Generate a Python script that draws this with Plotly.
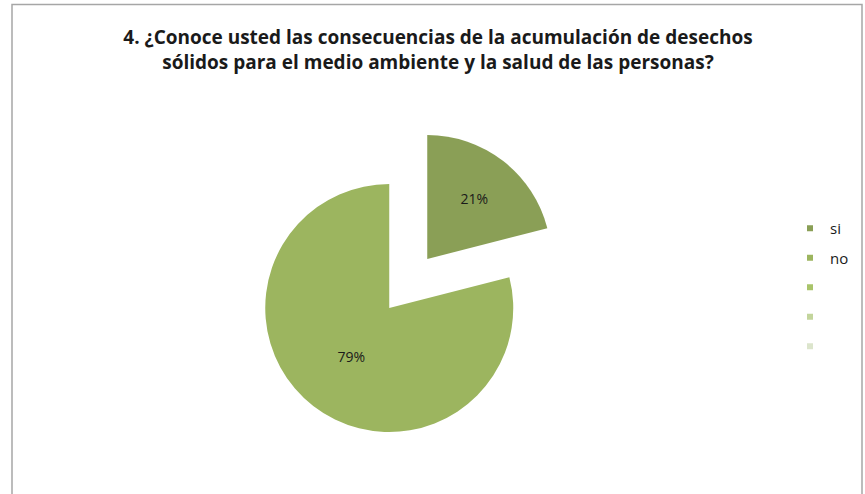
import plotly.graph_objects as go

# survey answers
labels = ["si", "no"]
values = [21, 79]
slice_colors = ["#8A9F56", "#9CB55F"]

# Excel legend also lists three empty categories
legend_names = ["si", "no", " ", " ", " "]
legend_colors = ["#8A9F56", "#9CB55F", "#A9C46A", "#C3D59C", "#DCE5CC"]

title_text = ("4. ¿Conoce usted las consecuencias de la acumulación de desechos<br>"
              "sólidos para el medio ambiente y la salud de las personas?")

W, H = 865, 494

fig = go.Figure()

fig.add_trace(go.Pie(
    labels=labels, values=values, sort=False, direction="clockwise", rotation=0,
    pull=[0.5, 0], marker=dict(colors=slice_colors, line=dict(width=0)),
    textinfo="percent", textposition="inside", insidetextorientation="horizontal",
    textfont=dict(family="Open Sans", size=14, color="#1a1a1a"),
    showlegend=False,
    domain=dict(x=[0.0, 0.9], y=[0.0, 1 - 122 / H]),
))

# legend entries with small square markers
for i, (name, col) in enumerate(zip(legend_names, legend_colors)):
    fig.add_trace(go.Scatter(
        x=[None], y=[None], mode="markers", name=name, legendgroup=f"g{i}",
        marker=dict(symbol="square", size=6, color=col),
    ))

fig.update_xaxes(visible=False)
fig.update_yaxes(visible=False)

fig.update_layout(
    width=W, height=H,
    margin=dict(l=0, r=0, t=0, b=0),
    paper_bgcolor="white", plot_bgcolor="white",
    title=dict(text=f"<b>{title_text}</b>", x=438 / W, xanchor="center",
               y=1 - 44 / H, yanchor="top",
               font=dict(family="Open Sans", size=19, color="#1a1a1a")),
    legend=dict(x=790 / W, xanchor="left", y=1 - 212 / H, yanchor="top",
                traceorder="grouped", tracegroupgap=7,
                font=dict(family="Open Sans", size=15, color="#1a1a1a"),
                bgcolor="rgba(0,0,0,0)"),
    shapes=[dict(type="rect", xref="paper", yref="paper",
                 x0=12 / W, x1=862 / W, y0=-0.1, y1=1 - 4.5 / H,
                 line=dict(color="#A6A6A6", width=1.5))],
)

fig.write_html("out.html", config={"displayModeBar": False},
               post_script="document.body.style.margin='0';")
